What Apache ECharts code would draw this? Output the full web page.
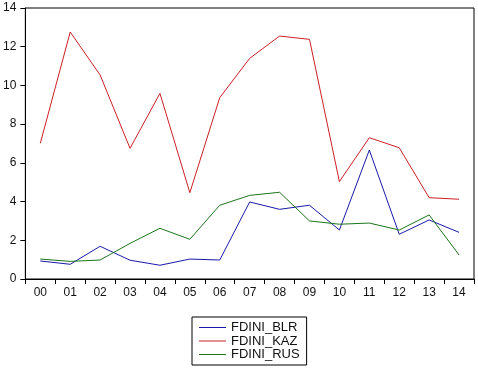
<!DOCTYPE html>
<html><head><meta charset="utf-8">
<script src="https://cdn.jsdelivr.net/npm/echarts@6/dist/echarts.min.js"></script>
<style>html,body{margin:0;padding:0;background:#fff}#c{width:478px;height:368px}</style>
</head><body><div id="c"></div>
<script>
const categories = ["00","01","02","03","04","05","06","07","08","09","10","11","12","13","14"];
const fdiniBLR = [0.93,0.76,1.69,0.97,0.71,1.03,0.98,3.98,3.60,3.81,2.53,6.66,2.31,3.05,2.41];
const fdiniKAZ = [7.01,12.76,10.54,6.75,9.59,4.46,9.37,11.40,12.55,12.38,5.03,7.30,6.78,4.20,4.12];
const fdiniRUS = [1.03,0.91,0.98,1.84,2.62,2.05,3.81,4.32,4.48,3.00,2.83,2.89,2.53,3.31,1.24];
const seriesNames = ["FDINI_BLR","FDINI_KAZ","FDINI_RUS"];
const colors = ["#1a1aa8","#cc1f24","#1a761a"];

const chart = echarts.init(document.getElementById('c'), null, {renderer:'canvas'});
const font = "Liberation Sans, Arial, sans-serif";
const mk = (name, data, color) => ({
  name, type:'line', data, symbol:'none', color,
  lineStyle:{width:1, color}, animation:false
});
chart.setOption({
  animation:false,
  backgroundColor:'#fff',
  color: colors,
  grid:{left:23, right:4, top:8, bottom:89, show:true, borderColor:'#000', borderWidth:1, backgroundColor:'transparent'},
  xAxis:{
    type:'category', data:categories, boundaryGap:true,
    axisLine:{lineStyle:{color:'#000', width:1}},
    axisTick:{show:true, length:5, inside:false, alignWithLabel:false, lineStyle:{color:'#000'}},
    axisLabel:{color:'#111', fontSize:12, fontFamily:font, margin:8, interval:0},
    splitLine:{show:false}
  },
  yAxis:{
    type:'value', min:0, max:14, interval:2,
    axisLine:{show:true, lineStyle:{color:'#000', width:1}},
    axisTick:{show:true, length:5, lineStyle:{color:'#000'}},
    axisLabel:{color:'#111', fontSize:12, fontFamily:font, margin:9},
    splitLine:{show:false}
  },
  legend:{
    orient:'vertical', left:192, top:317,
    data: seriesNames,
    icon:'path://M0,0 L27,0 L27,1 L0,1 Z',
    itemWidth:27, itemHeight:1.2, itemGap:0.5,
    padding:[4,7,4,7],
    borderColor:'#000', borderWidth:1,
    textStyle:{color:'#111', fontSize:13, fontFamily:font, lineHeight:13},
  },
  series:[
    mk(seriesNames[0], fdiniBLR, colors[0]),
    mk(seriesNames[1], fdiniKAZ, colors[1]),
    mk(seriesNames[2], fdiniRUS, colors[2])
  ]
});
</script></body></html>
